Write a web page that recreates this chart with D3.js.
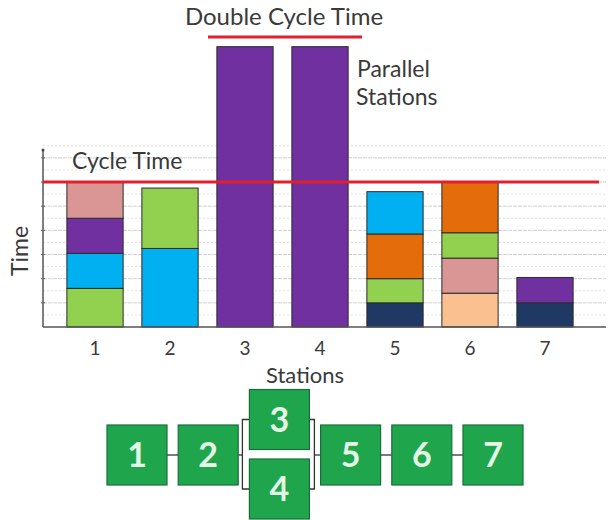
<!DOCTYPE html>
<html>
<head>
<meta charset="utf-8">
<script src="https://cdn.jsdelivr.net/npm/d3@7"></script>
<style>
  html, body { margin: 0; padding: 0; background: #fff; }
  svg { display: block; font-family: Lato, "Open Sans", sans-serif; }
</style>
</head>
<body>
<svg id="chart" width="608" height="520"></svg>
<script>
// Stations along the line
const stations = ["1", "2", "3", "4", "5", "6", "7"];

// Task segments stacked per station, bottom to top (time units, cycle time = 6)
const taskTimes = [
  [1.6, 1.45, 1.45, 1.5],
  [3.25, 2.5],
  [11.6],
  [11.6],
  [1.0, 1.0, 1.85, 1.75],
  [1.4, 1.45, 1.05, 2.1],
  [1.0, 1.05]
];
const taskColors = [
  ["#92d050", "#00b0f0", "#7030a0", "#d99694"],
  ["#00b0f0", "#92d050"],
  ["#7030a0"],
  ["#7030a0"],
  ["#1f3864", "#92d050", "#e46c0a", "#00b0f0"],
  ["#fac090", "#d99694", "#92d050", "#e46c0a"],
  ["#1f3864", "#7030a0"]
];

const cycleTime = 6;
const doubleCycleTime = 12;
const gridValues = [1, 2, 3, 4, 5, 6, 7];
const minorGridValues = [0.5, 1.5, 2.5, 3.5, 4.5, 5.5, 6.5, 7.5];

// Process flow: columns of the layout, stations 3 and 4 run in parallel
const flowColumns = [["1"], ["2"], ["3", "4"], ["5"], ["6"], ["7"]];

const svg = d3.select("#chart");
const textColor = "#3a3a3a";
const red = "#e0202c";

const x = d3.scaleBand().domain(stations)
  .range([57.5, 582.5]).paddingInner(0.25).paddingOuter(0.125);
const y = d3.scaleLinear().domain([0, doubleCycleTime]).range([327, 37]);

const axisLeft = 43, axisRight = 606;

// Grid
svg.append("g").selectAll("line").data(minorGridValues).join("line")
  .attr("x1", axisLeft).attr("x2", axisRight)
  .attr("y1", d => y(d)).attr("y2", d => y(d))
  .attr("stroke", "#e2e2e2").attr("stroke-dasharray", "2,2");
svg.append("g").selectAll("line").data(gridValues).join("line")
  .attr("x1", axisLeft).attr("x2", axisRight)
  .attr("y1", d => y(d)).attr("y2", d => y(d))
  .attr("stroke", "#cfcfcf").attr("stroke-dasharray", "4,1");

// Stacked bars
stations.forEach((s, i) => {
  let base = 0;
  const segs = taskTimes[i].map((v, j) => {
    const seg = { y0: base, y1: base + v, color: taskColors[i][j] };
    base += v;
    return seg;
  });
  svg.append("g").selectAll("rect").data(segs).join("rect")
    .attr("x", x(s)).attr("width", x.bandwidth())
    .attr("y", d => y(d.y1)).attr("height", d => y(d.y0) - y(d.y1))
    .attr("fill", d => d.color)
    .attr("stroke", "#2b2b2b").attr("stroke-width", 1);
});

// Axes
svg.append("line").attr("x1", axisLeft).attr("x2", axisLeft)
  .attr("y1", 150).attr("y2", y(0)).attr("stroke", "#555").attr("stroke-width", 1.5);
svg.append("circle").attr("cx", axisLeft).attr("cy", 150).attr("r", 1.5).attr("fill", "#444");
svg.append("g").selectAll("line").data(gridValues).join("line")
  .attr("x1", axisLeft - 2).attr("x2", axisLeft + 2)
  .attr("y1", d => y(d)).attr("y2", d => y(d)).attr("stroke", "#666");
svg.append("line").attr("x1", axisLeft).attr("x2", axisRight)
  .attr("y1", y(0)).attr("y2", y(0)).attr("stroke", "#555").attr("stroke-width", 1.5);

const xAxis = svg.append("g").attr("transform", `translate(0,${y(0)})`)
  .call(d3.axisBottom(x).tickSize(0).tickPadding(15));
xAxis.select(".domain").remove();
xAxis.selectAll("text").attr("font-size", 19).attr("fill", textColor)
  .attr("font-family", "Lato, sans-serif");

svg.append("text").attr("x", 305).attr("y", 383).attr("text-anchor", "middle")
  .attr("font-size", 22).attr("fill", textColor).text("Stations");
svg.append("text").attr("transform", "translate(28,251) rotate(-90)")
  .attr("text-anchor", "middle").attr("font-size", 23).attr("fill", textColor).text("Time");

// Cycle time reference lines
svg.append("line").attr("x1", axisLeft).attr("x2", 599)
  .attr("y1", y(cycleTime)).attr("y2", y(cycleTime))
  .attr("stroke", red).attr("stroke-width", 3);
svg.append("text").attr("x", 72).attr("y", 169).attr("font-size", 23)
  .attr("fill", textColor).text("Cycle Time");

svg.append("line").attr("x1", 208).attr("x2", 362)
  .attr("y1", y(doubleCycleTime)).attr("y2", y(doubleCycleTime))
  .attr("stroke", red).attr("stroke-width", 3);
svg.append("text").attr("x", 284).attr("y", 25).attr("text-anchor", "middle")
  .attr("font-size", 24).attr("fill", textColor).text("Double Cycle Time");

svg.append("text").attr("x", 357).attr("y", 77).attr("font-size", 23)
  .attr("fill", textColor).text("Parallel");
svg.append("text").attr("x", 356).attr("y", 105).attr("font-size", 23)
  .attr("fill", textColor).text("Stations");

// Process flow diagram
const col = d3.scalePoint().domain(d3.range(flowColumns.length)).range([137, 493]);
const boxSize = 60, rowY = 455, parY = [419.5, 489];
const boxes = [];
flowColumns.forEach((c, i) => {
  c.forEach((s, k) => {
    boxes.push({ s, cx: col(i), cy: c.length === 1 ? rowY : parY[k] });
  });
});

const flow = svg.append("g").attr("stroke", "#333").attr("stroke-width", 1.3).attr("fill", "none");
flowColumns.forEach((c, i) => {
  if (i === flowColumns.length - 1) return;
  const xa = col(i) + boxSize / 2, xb = col(i + 1) - boxSize / 2;
  if (c.length === 1 && flowColumns[i + 1].length === 1) {
    flow.append("line").attr("x1", xa).attr("x2", xb).attr("y1", rowY).attr("y2", rowY);
  }
});
// brackets around the parallel pair
const pi = flowColumns.findIndex(c => c.length > 1);
const leftB = col(pi) - boxSize / 2 - 7, rightB = col(pi) + boxSize / 2 + 5;
flow.append("line").attr("x1", col(pi - 1) + boxSize / 2).attr("x2", leftB).attr("y1", rowY).attr("y2", rowY);
flow.append("path").attr("d", `M${col(pi) - boxSize / 2},${parY[0]}H${leftB}V${parY[1]}H${col(pi) - boxSize / 2}`);
flow.append("path").attr("d", `M${col(pi) + boxSize / 2},${parY[0]}H${rightB}V${parY[1]}H${col(pi) + boxSize / 2}`);
flow.append("line").attr("x1", rightB).attr("x2", col(pi + 1) - boxSize / 2).attr("y1", rowY).attr("y2", rowY);

const bx = svg.append("g").selectAll("g").data(boxes).join("g")
  .attr("transform", d => `translate(${d.cx},${d.cy})`);
bx.append("rect").attr("x", -boxSize / 2).attr("y", -boxSize / 2)
  .attr("width", boxSize).attr("height", boxSize)
  .attr("fill", "#1fa64c").attr("stroke", "#17703a").attr("stroke-width", 1.2);
bx.append("text").attr("text-anchor", "middle").attr("dy", "0.36em")
  .attr("font-size", 34).attr("font-weight", "bold").attr("fill", "#e4f7e6")
  .text(d => d.s);
</script>
</body>
</html>
